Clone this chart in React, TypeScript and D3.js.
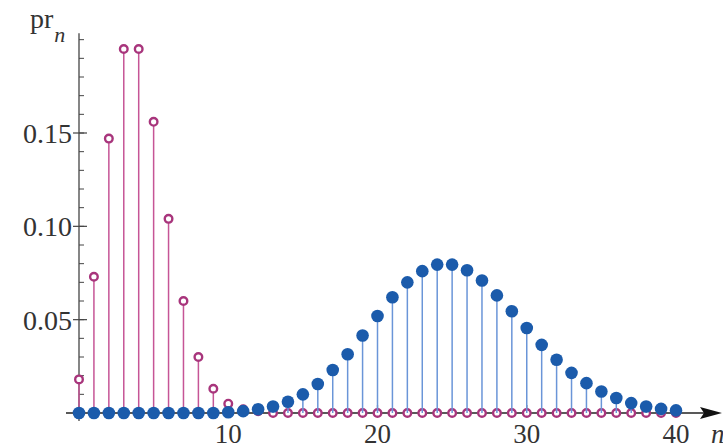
import { useEffect, useRef } from 'react';
import * as d3 from 'd3';

// n = 0..40
const nValues = d3.range(0, 41);

// pink open circles (mean about 4)
const pinkValues = [
  0.018, 0.073, 0.147, 0.195, 0.195, 0.156, 0.104, 0.060, 0.030, 0.013,
  0.005, 0.002, 0.001, 0, 0, 0, 0, 0, 0, 0,
  0, 0, 0, 0, 0, 0, 0, 0, 0, 0,
  0, 0, 0, 0, 0, 0, 0, 0, 0, 0, 0,
];

// blue filled dots (mean about 25)
const blueValues = [
  0, 0, 0, 0, 0, 0, 0, 0, 0, 0,
  0.0004, 0.001, 0.002, 0.0035, 0.006, 0.010, 0.0155, 0.023, 0.0315, 0.0415,
  0.052, 0.062, 0.070, 0.076, 0.0795, 0.0795, 0.0765, 0.071, 0.063, 0.0545,
  0.0455, 0.0365, 0.0285, 0.0215, 0.016, 0.0115, 0.008, 0.0053, 0.0035, 0.0022, 0.0014,
];

const xTicks = [10, 20, 30, 40];
const yMajorTicks = [0.05, 0.1, 0.15];
const yMinorTicks = d3.range(1, 21).map(i => i / 100);

const App = () => {
  const svgRef = useRef<SVGSVGElement>(null);

  useEffect(() => {
    const width = 723;
    const height = 448;
    const font = '"Liberation Serif", "DejaVu Serif", serif';

    const x = d3.scaleLinear().domain([0, 40]).range([79, 676]);
    const y = d3.scaleLinear().domain([0, 0.15]).range([413, 133]);

    const svg = d3.select(svgRef.current);
    svg.selectAll('*').remove();
    svg.attr('width', width).attr('height', height);

    svg.append('rect').attr('width', width).attr('height', height).attr('fill', 'white');

    // y axis
    const axisColor = '#444';
    svg.append('line')
      .attr('x1', x(0)).attr('x2', x(0))
      .attr('y1', y(0) + 8).attr('y2', y(0.2035))
      .attr('stroke', axisColor).attr('stroke-width', 1.3);

    svg.selectAll('.minor')
      .data(yMinorTicks)
      .join('line')
      .attr('x1', x(0)).attr('x2', x(0) + 5)
      .attr('y1', d => y(d)).attr('y2', d => y(d))
      .attr('stroke', axisColor).attr('stroke-width', 1);

    svg.selectAll('.major')
      .data(yMajorTicks)
      .join('line')
      .attr('x1', x(0) - 6).attr('x2', x(0) + 8)
      .attr('y1', d => y(d)).attr('y2', d => y(d))
      .attr('stroke', axisColor).attr('stroke-width', 1.2);

    svg.selectAll('.ylab')
      .data(yMajorTicks)
      .join('text')
      .attr('x', 72)
      .attr('y', d => y(d) + 10)
      .attr('text-anchor', 'end')
      .attr('font-family', font)
      .attr('font-size', 28)
      .attr('fill', '#333')
      .text(d => d3.format('.2f')(d));

    // x axis
    svg.append('line')
      .attr('x1', 66).attr('x2', 708)
      .attr('y1', y(0)).attr('y2', y(0))
      .attr('stroke', '#222').attr('stroke-width', 1.3);
    svg.append('path')
      .attr('d', `M722,${y(0)} L700,${y(0) - 6} L704,${y(0)} L700,${y(0) + 6} Z`)
      .attr('fill', '#111');

    svg.selectAll('.xtick')
      .data(xTicks)
      .join('line')
      .attr('x1', d => x(d)).attr('x2', d => x(d))
      .attr('y1', y(0)).attr('y2', y(0) - 8)
      .attr('stroke', axisColor).attr('stroke-width', 1.2);

    svg.selectAll('.xlab')
      .data(xTicks)
      .join('text')
      .attr('x', d => x(d))
      .attr('y', 443)
      .attr('text-anchor', 'middle')
      .attr('font-family', font)
      .attr('font-size', 27)
      .attr('fill', '#333')
      .text(d => d);

    svg.append('text')
      .attr('x', 711).attr('y', 443)
      .attr('font-family', font).attr('font-size', 27).attr('font-style', 'italic')
      .attr('fill', '#333')
      .text('n');

    const yl = svg.append('text')
      .attr('x', 30).attr('y', 28)
      .attr('font-family', font).attr('font-size', 28)
      .attr('fill', '#333');
    yl.append('tspan').text('pr');
    yl.append('tspan').attr('font-style', 'italic').attr('font-size', 22).attr('dx', 1).attr('dy', 14).text('n');

    // pink stems + open circles
    const pink = nValues.map((n, i) => ({ n, v: pinkValues[i] }));
    const blue = nValues.map((n, i) => ({ n, v: blueValues[i] }));

    svg.append('g').selectAll('line')
      .data(pink.filter(d => d.v > 0))
      .join('line')
      .attr('x1', d => x(d.n)).attr('x2', d => x(d.n))
      .attr('y1', y(0)).attr('y2', d => y(d.v))
      .attr('stroke', '#c65596').attr('stroke-width', 1.5);

    svg.append('g').selectAll('circle')
      .data(pink)
      .join('circle')
      .attr('cx', d => x(d.n)).attr('cy', d => y(d.v))
      .attr('r', 3.8)
      .attr('fill', 'white')
      .attr('stroke', '#a8357c').attr('stroke-width', 2.4);

    // blue stems + filled dots
    svg.append('g').selectAll('line')
      .data(blue.filter(d => d.v > 0))
      .join('line')
      .attr('x1', d => x(d.n)).attr('x2', d => x(d.n))
      .attr('y1', y(0)).attr('y2', d => y(d.v))
      .attr('stroke', '#6a95d8').attr('stroke-width', 1.5);

    svg.append('g').selectAll('circle')
      .data(blue)
      .join('circle')
      .attr('cx', d => x(d.n)).attr('cy', d => y(d.v))
      .attr('r', 6.3)
      .attr('fill', '#1b5bab');
  }, []);

  return (
    <div style={{ position: 'fixed', left: 0, top: 0 }}>
      <svg ref={svgRef} style={{ display: 'block' }}></svg>
    </div>
  );
};

export default App;
